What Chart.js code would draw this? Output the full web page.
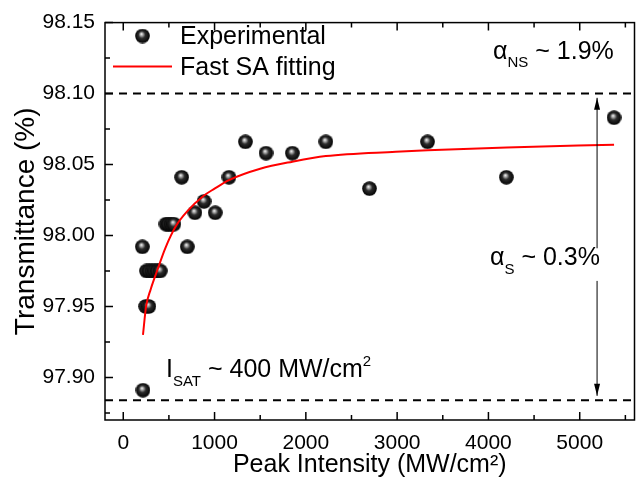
<!DOCTYPE html>
<html>
<head>
<meta charset="utf-8">
<script src="https://cdn.jsdelivr.net/npm/chart.js@4.4.0/dist/chart.umd.min.js"></script>
<style>
  html, body { margin: 0; padding: 0; background: #fff; overflow: hidden; }
  canvas { display: block; }
</style>
</head>
<body>
<canvas id="saChart" width="643" height="478"></canvas>
<script>
// measured points
const expX = [209, 216, 245, 255, 280, 285, 315, 345, 375, 405, 468, 496, 525, 554, 640, 701, 785, 885, 1007, 1158, 1338, 1564, 1852, 2219, 2697, 3333, 4196, 5376];
const expY = [97.992, 97.891, 97.950, 97.975, 97.950, 97.975, 97.975, 97.975, 97.975, 97.975, 98.008, 98.008, 98.008, 98.008, 98.041, 97.992, 98.016, 98.024, 98.016, 98.041, 98.066, 98.058, 98.058, 98.066, 98.033, 98.066, 98.041, 98.083];

// fast SA fitting curve
const fitX = [216, 250, 300, 370, 460, 580, 700, 881, 1000, 1158, 1500, 1852, 2219, 2985, 3333, 4200, 5376];
const fitY = [97.930, 97.950, 97.962, 97.975, 97.991, 98.007, 98.017, 98.028, 98.033, 98.039, 98.047, 98.052, 98.056, 98.059, 98.060, 98.062, 98.064];

// dashed levels and the arrow
const dashX = [-200, 5600];
const dashLevels = [98.100, 97.884];
const arrowX = 5190;
const arrowUp = [97.991, 98.097];
const arrowDown = [97.968, 97.887];

// axis ticks
const xTicks = [0, 1000, 2000, 3000, 4000, 5000];
const yTicks = [97.90, 97.95, 98.00, 98.05, 98.10, 98.15];

const FONT = '"Liberation Sans", Arial, sans-serif';

// black ball marker
const sphere = document.createElement('canvas');
sphere.width = 15; sphere.height = 15;
(function () {
  const g = sphere.getContext('2d');
  const grad = g.createRadialGradient(6.4, 5.4, 0.2, 7.5, 7.5, 7.5);
  grad.addColorStop(0, '#f2f2f2');
  grad.addColorStop(0.2, '#a0a0a0');
  grad.addColorStop(0.45, '#2c2c2c');
  grad.addColorStop(1, '#000');
  g.fillStyle = grad;
  g.beginPath();
  g.arc(7.5, 7.5, 7.3, 0, Math.PI * 2);
  g.fill();
})();

function richText(ctx, parts, x, y) {
  parts.forEach(([t, size, dy]) => {
    ctx.font = size + 'px ' + FONT;
    ctx.fillText(t, x, y + dy);
    x += ctx.measureText(t).width;
  });
}

function arrow(ctx, px, yFrom, yTo) {
  ctx.beginPath();
  ctx.moveTo(px, yFrom);
  ctx.lineTo(px, yTo);
  ctx.stroke();
  const dir = yTo < yFrom ? 1 : -1;
  ctx.beginPath();
  ctx.moveTo(px, yTo);
  ctx.lineTo(px - 3, yTo + dir * 12);
  ctx.lineTo(px + 3, yTo + dir * 12);
  ctx.closePath();
  ctx.fill();
}

// frame, inward ticks, legend and notes
const decorPlugin = {
  id: 'decor',
  afterDraw(chart) {
    const { ctx, chartArea: a, scales: { x, y } } = chart;
    ctx.save();
    ctx.strokeStyle = '#000';
    ctx.fillStyle = '#000';
    ctx.lineWidth = 1.5;
    ctx.strokeRect(a.left, a.top, a.right - a.left, a.bottom - a.top);

    ctx.beginPath();
    xTicks.forEach(v => {
      const px = x.getPixelForValue(v);
      ctx.moveTo(px, a.bottom); ctx.lineTo(px, a.bottom - 8);
      ctx.moveTo(px, a.top); ctx.lineTo(px, a.top + 8);
      const mx = x.getPixelForValue(v + 500);
      ctx.moveTo(mx, a.bottom); ctx.lineTo(mx, a.bottom - 5);
      ctx.moveTo(mx, a.top); ctx.lineTo(mx, a.top + 5);
    });
    yTicks.forEach(v => {
      const py = y.getPixelForValue(v);
      ctx.moveTo(a.left, py); ctx.lineTo(a.left + 8, py);
      const my = y.getPixelForValue(v - 0.025);
      ctx.moveTo(a.left, my); ctx.lineTo(a.left + 5, my);
    });
    ctx.stroke();

    // arrows between the dashed levels
    ctx.lineWidth = 1;
    const ax = x.getPixelForValue(arrowX);
    arrow(ctx, ax, y.getPixelForValue(arrowUp[0]), y.getPixelForValue(arrowUp[1]));
    arrow(ctx, ax, y.getPixelForValue(arrowDown[0]), y.getPixelForValue(arrowDown[1]));

    // legend
    ctx.drawImage(sphere, 135, 28.5);
    ctx.strokeStyle = '#ff0000';
    ctx.lineWidth = 2;
    ctx.beginPath();
    ctx.moveTo(113, 66.5); ctx.lineTo(172, 66.5);
    ctx.stroke();
    ctx.textBaseline = 'alphabetic';
    ctx.textAlign = 'left';
    richText(ctx, [['Experimental', 25, 0]], 180, 44);
    richText(ctx, [['Fast SA fitting', 25, 0]], 180, 75);

    // notes
    richText(ctx, [['\u03b1', 25, 0], ['NS', 15, 8], [' ~ 1.9%', 25, 0]], 493, 59);
    richText(ctx, [['\u03b1', 25, 0], ['S', 15, 9], [' ~ 0.3%', 25, 0]], 490, 265);
    richText(ctx, [['I', 25, 0], ['SAT', 15, 9], [' ~ 400 MW/cm', 25, 0], ['2', 15, -11]], 166, 377);
    ctx.restore();
  }
};

const ctx = document.getElementById('saChart');

new Chart(ctx, {
  type: 'scatter',
  data: {
    datasets: [{
      label: 'Fast SA fitting',
      type: 'line',
      data: fitX.map((v, i) => ({ x: v, y: fitY[i] })),
      borderColor: '#ff0000',
      borderWidth: 2,
      pointRadius: 0,
      cubicInterpolationMode: 'monotone',
      fill: false,
      order: 0
    }, {
      label: 'Experimental',
      data: expX.map((v, i) => ({ x: v, y: expY[i] })),
      pointStyle: sphere,
      pointRadius: 7.5,
      order: 1
    }].concat(dashLevels.map(lv => ({
      type: 'line',
      data: dashX.map(v => ({ x: v, y: lv })),
      borderColor: '#000',
      borderWidth: 2,
      borderDash: [8, 6],
      pointRadius: 0,
      fill: false,
      order: 2
    })))
  },
  options: {
    responsive: false,
    animation: false,
    events: [],
    layout: { padding: { top: 18, right: 0, bottom: 0, left: 0 } },
    plugins: {
      legend: { display: false },
      tooltip: { enabled: false }
    },
    scales: {
      x: {
        type: 'linear',
        min: -200,
        max: 5600,
        grid: { display: false, drawTicks: false },
        border: { display: false },
        afterBuildTicks: s => { s.ticks = xTicks.map(v => ({ value: v })); },
        afterFit: s => { s.height = 58; },
        ticks: {
          padding: 11,
          color: '#000',
          font: { family: FONT, size: 21 },
          callback: v => String(v)
        },
        title: {
          display: true,
          text: 'Peak Intensity (MW/cm\u00b2)',
          color: '#000',
          font: { family: FONT, size: 25 },
          padding: { top: 0, bottom: -2 }
        }
      },
      y: {
        min: 97.87,
        max: 98.15,
        grid: { display: false, drawTicks: false },
        border: { display: false },
        afterBuildTicks: s => { s.ticks = yTicks.map(v => ({ value: v })); },
        afterFit: s => { s.width = 105; },
        ticks: {
          padding: 10,
          color: '#000',
          font: { family: FONT, size: 21 },
          callback: v => v.toFixed(2)
        },
        title: {
          display: true,
          text: 'Transmittance (%)',
          color: '#000',
          font: { family: FONT, size: 28 },
          padding: { top: 9, bottom: 0 }
        }
      }
    }
  },
  plugins: [decorPlugin]
});
</script>
</body>
</html>
